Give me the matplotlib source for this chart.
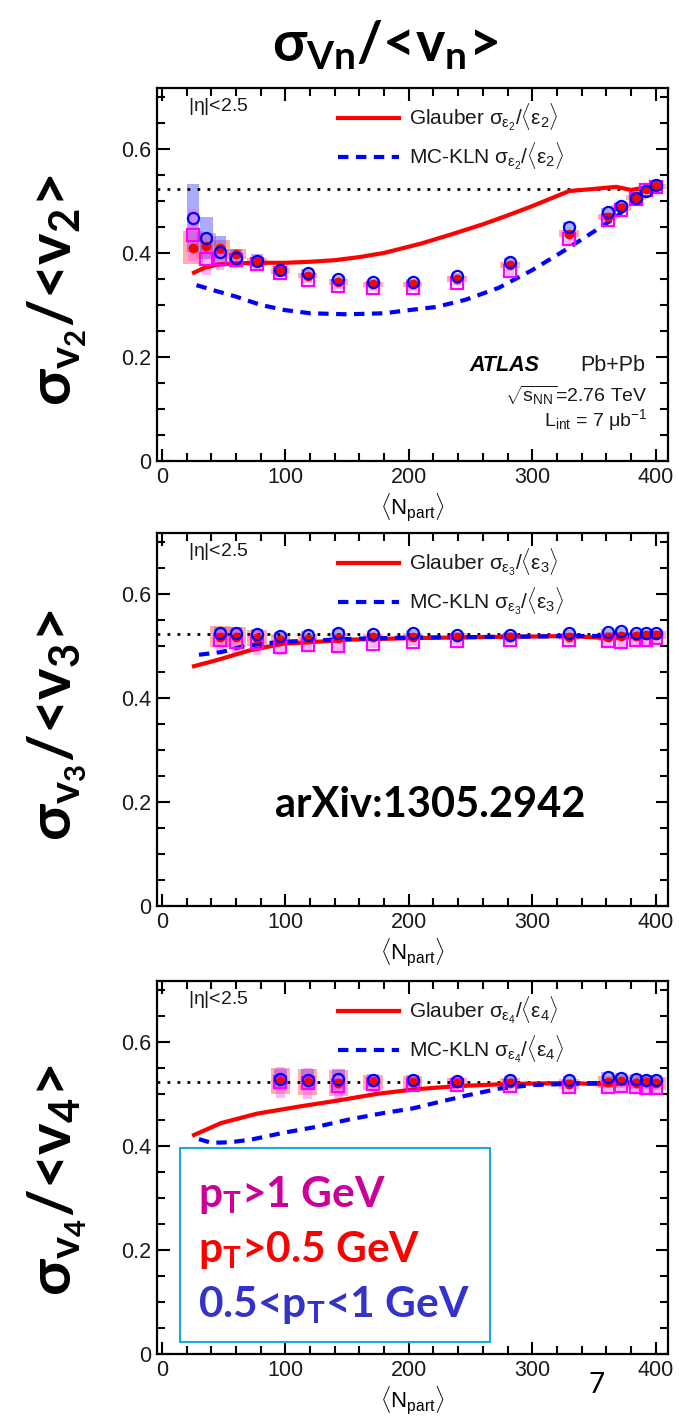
import numpy as np
import matplotlib
matplotlib.use("Agg")
import matplotlib.pyplot as plt
from matplotlib.patches import Rectangle
from matplotlib.ticker import MultipleLocator, FuncFormatter

plt.rcParams['font.family'] = ['Liberation Sans', 'DejaVu Sans']
plt.rcParams['mathtext.fontset'] = 'custom'
plt.rcParams['mathtext.rm'] = 'Liberation Sans'
plt.rcParams['mathtext.it'] = 'Liberation Sans'
plt.rcParams['mathtext.bf'] = 'Lato:bold'

# ---- data ----
npart_v2 = [25, 36, 47, 60, 77, 96, 118, 143, 171, 203, 239, 282, 330, 361, 372, 384, 392, 400]
v2_blue = [0.467, 0.429, 0.402, 0.390, 0.385, 0.367, 0.362, 0.350, 0.344, 0.344, 0.356, 0.383, 0.450, 0.479, 0.490, 0.505, 0.519, 0.530]
v2_red = [0.410, 0.413, 0.410, 0.398, 0.383, 0.365, 0.356, 0.344, 0.340, 0.340, 0.350, 0.377, 0.437, 0.469, 0.486, 0.506, 0.522, 0.528]
v2_pink = [0.435, 0.388, 0.388, 0.386, 0.378, 0.361, 0.348, 0.337, 0.333, 0.333, 0.342, 0.365, 0.426, 0.463, 0.482, 0.503, 0.520, 0.527]
v2_blue_sys = [0.065, 0.04, 0.03, 0.017, 0.012, 0.008, 0.007, 0.006, 0.006, 0.006, 0.006, 0.008, 0.01, 0.008, 0.007, 0.006, 0.005, 0.005]
v2_red_sys = [0.032, 0.025, 0.015, 0.01, 0.008, 0.006, 0.005, 0.005, 0.005, 0.005, 0.005, 0.006, 0.007, 0.006, 0.006, 0.005, 0.005, 0.005]
v2_pink_sys = [0.05, 0.03, 0.02, 0.015, 0.012, 0.008, 0.006, 0.006, 0.006, 0.006, 0.006, 0.007, 0.008, 0.007, 0.006, 0.006, 0.005, 0.005]

npart_v3 = [47, 60, 77, 96, 118, 143, 171, 203, 239, 282, 330, 361, 372, 384, 392, 400]
v3_blue = [0.525, 0.524, 0.522, 0.519, 0.521, 0.524, 0.522, 0.524, 0.521, 0.520, 0.525, 0.526, 0.528, 0.525, 0.524, 0.524]
v3_red = [0.518, 0.517, 0.515, 0.512, 0.514, 0.516, 0.517, 0.518, 0.518, 0.517, 0.518, 0.518, 0.519, 0.519, 0.520, 0.521]
v3_pink = [0.512, 0.508, 0.505, 0.497, 0.502, 0.500, 0.504, 0.508, 0.510, 0.512, 0.512, 0.510, 0.508, 0.512, 0.512, 0.515]
v3_blue_sys = [0.012, 0.012, 0.01, 0.008, 0.008, 0.008, 0.006, 0.006, 0.006, 0.006, 0.006, 0.006, 0.006, 0.006, 0.006, 0.006]
v3_red_sys = [0.02, 0.02, 0.015, 0.01, 0.008, 0.008, 0.006, 0.006, 0.006, 0.006, 0.006, 0.008, 0.008, 0.008, 0.008, 0.008]
v3_pink_sys = [0.025, 0.025, 0.022, 0.015, 0.012, 0.01, 0.008, 0.008, 0.008, 0.008, 0.008, 0.01, 0.01, 0.01, 0.01, 0.01]

npart_v4 = [96, 118, 143, 171, 203, 239, 282, 330, 361, 372, 384, 392, 400]
v4_blue = [0.528, 0.527, 0.528, 0.526, 0.527, 0.525, 0.526, 0.527, 0.532, 0.530, 0.528, 0.526, 0.527]
v4_red = [0.524, 0.523, 0.521, 0.522, 0.522, 0.521, 0.521, 0.519, 0.523, 0.524, 0.521, 0.522, 0.520]
v4_pink = [0.522, 0.520, 0.516, 0.519, 0.518, 0.518, 0.516, 0.514, 0.513, 0.516, 0.514, 0.512, 0.511]
v4_blue_sys = [0.02, 0.02, 0.02, 0.012, 0.01, 0.008, 0.008, 0.008, 0.01, 0.01, 0.01, 0.01, 0.01]
v4_red_sys = [0.025, 0.025, 0.025, 0.015, 0.012, 0.01, 0.01, 0.01, 0.012, 0.012, 0.012, 0.012, 0.012]
v4_pink_sys = [0.03, 0.03, 0.03, 0.015, 0.012, 0.01, 0.01, 0.01, 0.012, 0.012, 0.012, 0.012, 0.012]

glauber_v2_x = [26, 35, 46, 60, 80, 100, 120, 140, 160, 180, 210, 235, 260, 280, 300, 330, 350, 368, 380, 392, 402]
glauber_v2 = [0.362, 0.372, 0.378, 0.380, 0.381, 0.381, 0.383, 0.386, 0.392, 0.400, 0.418, 0.436, 0.455, 0.472, 0.490, 0.519, 0.523, 0.527, 0.521, 0.526, 0.528]
mckln_v2_x = [28, 45, 60, 80, 100, 120, 150, 180, 200, 222, 246, 273, 300, 327, 348, 368, 381, 397]
mckln_v2 = [0.338, 0.326, 0.316, 0.300, 0.290, 0.284, 0.282, 0.284, 0.290, 0.296, 0.310, 0.333, 0.367, 0.406, 0.438, 0.469, 0.496, 0.527]

glauber_v3_x = [26, 45, 72, 98, 126, 152, 206, 260, 300, 330, 360, 380, 400]
glauber_v3 = [0.461, 0.473, 0.492, 0.504, 0.508, 0.512, 0.515, 0.517, 0.518, 0.519, 0.515, 0.517, 0.518]
mckln_v3_x = [30, 48, 64, 80, 98, 120, 160, 200, 260, 300, 340, 380, 400]
mckln_v3 = [0.483, 0.488, 0.498, 0.504, 0.508, 0.510, 0.514, 0.516, 0.517, 0.518, 0.519, 0.519, 0.519]

glauber_v4_x = [26, 48, 77, 112, 142, 174, 206, 240, 280, 330, 360, 380, 400]
glauber_v4 = [0.421, 0.444, 0.462, 0.476, 0.487, 0.500, 0.509, 0.515, 0.519, 0.521, 0.518, 0.520, 0.522]
mckln_v4_x = [30, 40, 55, 72, 98, 126, 152, 179, 203, 222, 247, 273, 300, 354, 400]
mckln_v4 = [0.413, 0.406, 0.407, 0.412, 0.425, 0.437, 0.451, 0.463, 0.472, 0.483, 0.497, 0.510, 0.517, 0.521, 0.523]

limit_value = np.sqrt(4 / np.pi - 1)

panels = [
    (2, npart_v2, v2_blue, v2_red, v2_pink, v2_blue_sys, v2_red_sys, v2_pink_sys,
     glauber_v2_x, glauber_v2, mckln_v2_x, mckln_v2),
    (3, npart_v3, v3_blue, v3_red, v3_pink, v3_blue_sys, v3_red_sys, v3_pink_sys,
     glauber_v3_x, glauber_v3, mckln_v3_x, mckln_v3),
    (4, npart_v4, v4_blue, v4_red, v4_pink, v4_blue_sys, v4_red_sys, v4_pink_sys,
     glauber_v4_x, glauber_v4, mckln_v4_x, mckln_v4),
]
label_shift_px = [16, 6, 13]

fig = plt.figure(figsize=(6.79, 14.17), dpi=100)
W, H = 679, 1417
bottoms_px = [461, 906, 1354]
ax_left, ax_w, ax_h = 157 / W, 511 / W, 373 / H

tick_fmt = FuncFormatter(lambda v, p: "0" if abs(v) < 1e-9 else ("%g" % v))

for (n, xs, yb, yr, yp, sb, sr, sp, gx, gy, mx, my), bpx, shift in zip(panels, bottoms_px, label_shift_px):
    ax = fig.add_axes([ax_left, (H - bpx) / H, ax_w, ax_h])
    xs = np.array(xs)

    # systematic boxes
    ax.bar(xs, 2 * np.array(sr), bottom=np.array(yr) - np.array(sr), width=16,
           color='#ff4a4a', alpha=0.45, lw=0, zorder=1)
    ax.bar(xs, 2 * np.array(sb), bottom=np.array(yb) - np.array(sb), width=10,
           color='#4646ff', alpha=0.45, lw=0, zorder=1)
    ax.bar(xs, 2 * np.array(sp), bottom=np.array(yp) - np.array(sp), width=7,
           color='#ff55ff', alpha=0.45, lw=0, zorder=1)

    ax.axhline(limit_value, color='black', lw=2, ls=(0, (1, 2.6)), zorder=2)

    g_line, = ax.plot(gx, gy, color='#ff0000', lw=3, zorder=3)
    m_line, = ax.plot(mx, my, color='#0000ff', lw=3, ls=(0, (2.5, 1.8)), zorder=3)

    ax.plot(xs, yp, ls='none', marker='s', ms=8, mfc='none', mec='#ff00ff', mew=1.6, zorder=4)
    ax.plot(xs, yr, ls='none', marker='o', ms=6, mfc='#ff0000', mec='#ff0000', zorder=5)
    ax.plot(xs, yb, ls='none', marker='o', ms=8, mfc='none', mec='#0000ff', mew=1.6, zorder=6)

    ax.set_xlim(-4, 410)
    ax.set_ylim(0, 0.717)
    ax.xaxis.set_major_locator(MultipleLocator(100))
    ax.xaxis.set_minor_locator(MultipleLocator(20))
    ax.yaxis.set_major_locator(MultipleLocator(0.2))
    ax.yaxis.set_minor_locator(MultipleLocator(0.05))
    ax.xaxis.set_major_formatter(tick_fmt)
    ax.yaxis.set_major_formatter(tick_fmt)
    ax.tick_params(which='both', direction='in', top=True, right=True, width=1.5,
                   labelsize=15.5, labelcolor='#1a1a1a')
    ax.tick_params(which='major', length=9, pad=4)
    ax.tick_params(which='minor', length=5.5)
    for sp_ in ax.spines.values():
        sp_.set_linewidth(1.6)

    ax.set_xlabel(r'$\langle$N$_{\rm part}\rangle$', fontsize=16, labelpad=3)

    ax.text(0.06, 0.95, r'|$\eta$|<2.5', transform=ax.transAxes, fontsize=14,
            ha='left', va='center', color='#1a1a1a')

    leg = ax.legend([g_line, m_line],
                    [r'Glauber $\sigma_{\epsilon_%d}/\langle\epsilon_%d\rangle$' % (n, n),
                     r'MC-KLN $\sigma_{\epsilon_%d}/\langle\epsilon_%d\rangle$' % (n, n)],
                    loc='upper left', bbox_to_anchor=(0.318, 1.012), frameon=False,
                    fontsize=15, handlelength=2.9, handletextpad=0.5, labelspacing=0.36)
    for t in leg.get_texts():
        t.set_color('#1a1a1a')

    fig.text(57 / W, (H - bpx + ax_h * H / 2 - shift) / H,
             r'$\mathbf{\sigma_{v_{%d}}}$/<v$_{\mathbf{%d}}$>' % (n, n),
             rotation=90, ha='center', va='center', fontsize=43,
             family='Lato', fontweight='bold')

    if n == 2:
        ax.text(0.612, 0.257, 'ATLAS', transform=ax.transAxes, fontsize=15.5,
                fontweight='bold', style='italic', ha='left', va='center')
        ax.text(0.955, 0.257, 'Pb+Pb', transform=ax.transAxes, fontsize=15.5,
                ha='right', va='center', color='#1a1a1a')
        ax.text(0.96, 0.177, r'$\sqrt{s_{\rm NN}}$=2.76 TeV', transform=ax.transAxes,
                fontsize=14, ha='right', va='center', color='#1a1a1a')
        ax.text(0.96, 0.11, r'L$_{\rm int}$ = 7 $\mu$b$^{-1}$', transform=ax.transAxes,
                fontsize=14, ha='right', va='center', color='#1a1a1a')
    if n == 3:
        ax.text(0.534, 0.27, 'arXiv:1305.2942', transform=ax.transAxes, fontsize=30,
                family='Lato', fontweight='bold', ha='center', va='center')

# title
fig.text(385 / W, 1 - 45 / H, r'$\mathbf{\sigma_{Vn}}$/<v$_{\mathbf{n}}$>',
         ha='center', va='center', fontsize=40, family='Lato', fontweight='bold')

# pT selection box
fig.patches.append(Rectangle((180 / W, 1 - 1342 / H), 310 / W, 194 / H,
                             transform=fig.transFigure, facecolor='white',
                             edgecolor='#1aa8e2', lw=1.5, zorder=10))
box_lines = [(r'p$_{\mathbf{T}}$>1 GeV', '#cc0099', 1195),
             (r'p$_{\mathbf{T}}$>0.5 GeV', '#ff0000', 1250),
             (r'0.5<p$_{\mathbf{T}}$<1 GeV', '#3333cc', 1305)]
for txt, col, ypx in box_lines:
    fig.text(198 / W, 1 - ypx / H, txt, color=col, fontsize=30.5, family='Lato',
             fontweight='bold', ha='left', va='center', zorder=11)

fig.text(597 / W, 1 - 1385 / H, '7', fontsize=20, family='Lato', ha='center', va='center')

fig.savefig('out.png', dpi=100)
